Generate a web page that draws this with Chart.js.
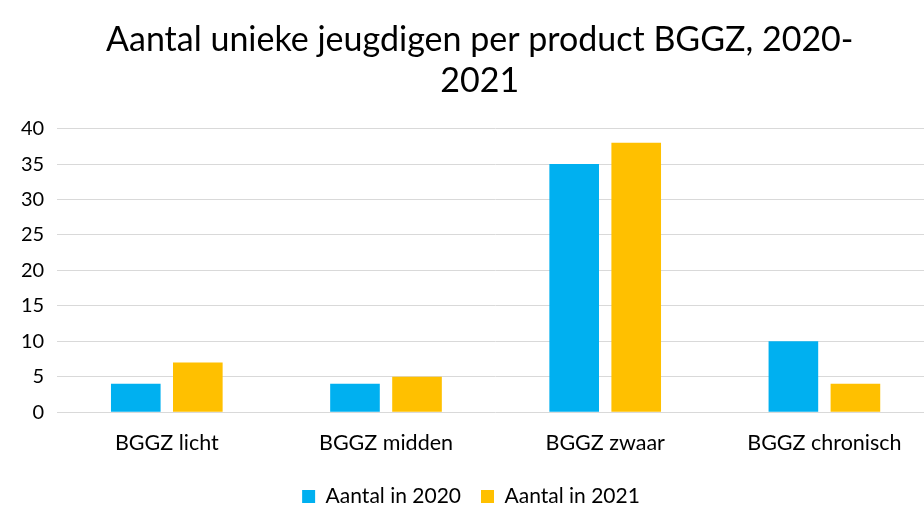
<!DOCTYPE html>
<html>
<head>
<meta charset="utf-8">
<script src="https://cdn.jsdelivr.net/npm/chart.js@4"></script>
<style>
  html, body { margin: 0; padding: 0; background: #ffffff; overflow: hidden; }
  #wrap { width: 934px; height: 505px; }
</style>
</head>
<body>
<div id="wrap"><canvas id="chart"></canvas></div>
<script>
const categories = ['BGGZ licht', 'BGGZ midden', 'BGGZ zwaar', 'BGGZ chronisch'];
const values2020 = [4, 4, 35, 10];
const values2021 = [7, 5, 38, 4];
const titleLines = ['  Aantal unieke jeugdigen per product BGGZ, 2020-', '  2021'];

const ctx = document.getElementById('chart').getContext('2d');
const chart = new Chart(ctx, {
    type: 'bar',
    data: {
        labels: categories,
        datasets: [{
            label: 'Aantal in 2020',
            data: values2020,
            backgroundColor: '#00B0F0',
        }, {
            label: 'Aantal in 2021',
            data: values2021,
            backgroundColor: '#FFC000',
        }],
    },
    options: {
        responsive: true,
        maintainAspectRatio: false,
        animation: false,
        layout: { padding: { left: 8, right: 0, top: 20, bottom: -12 } },
        datasets: {
            bar: { categoryPercentage: 0.566, barPercentage: 0.8 }
        },
        plugins: {
            title: {
                display: true,
                text: titleLines,
                color: '#000000',
                font: { family: 'Lato', size: 34, weight: 'normal' },
                padding: { top: 0, bottom: 27 },
                lineHeight: 1.05,
            },
            legend: {
                position: 'bottom',
                labels: {
                    color: '#000000',
                    font: { family: 'Lato', size: 21 },
                    boxWidth: 13,
                    boxHeight: 13,
                    padding: 20,
                },
            },
            tooltip: { enabled: false },
        },
        scales: {
            x: {
                grid: { display: false },
                border: { display: false },
                ticks: {
                    color: '#000000',
                    font: { family: 'Lato', size: 21.5 },
                    padding: 10,
                },
            },
            y: {
                min: 0,
                max: 40,
                ticks: {
                    stepSize: 5,
                    color: '#000000',
                    font: { family: 'Lato', size: 20 },
                    padding: 13,
                },
                grid: { color: '#D9D9D9', lineWidth: 1, drawTicks: false },
                border: { display: false },
            },
        },
    },
});
</script>
</body>
</html>
